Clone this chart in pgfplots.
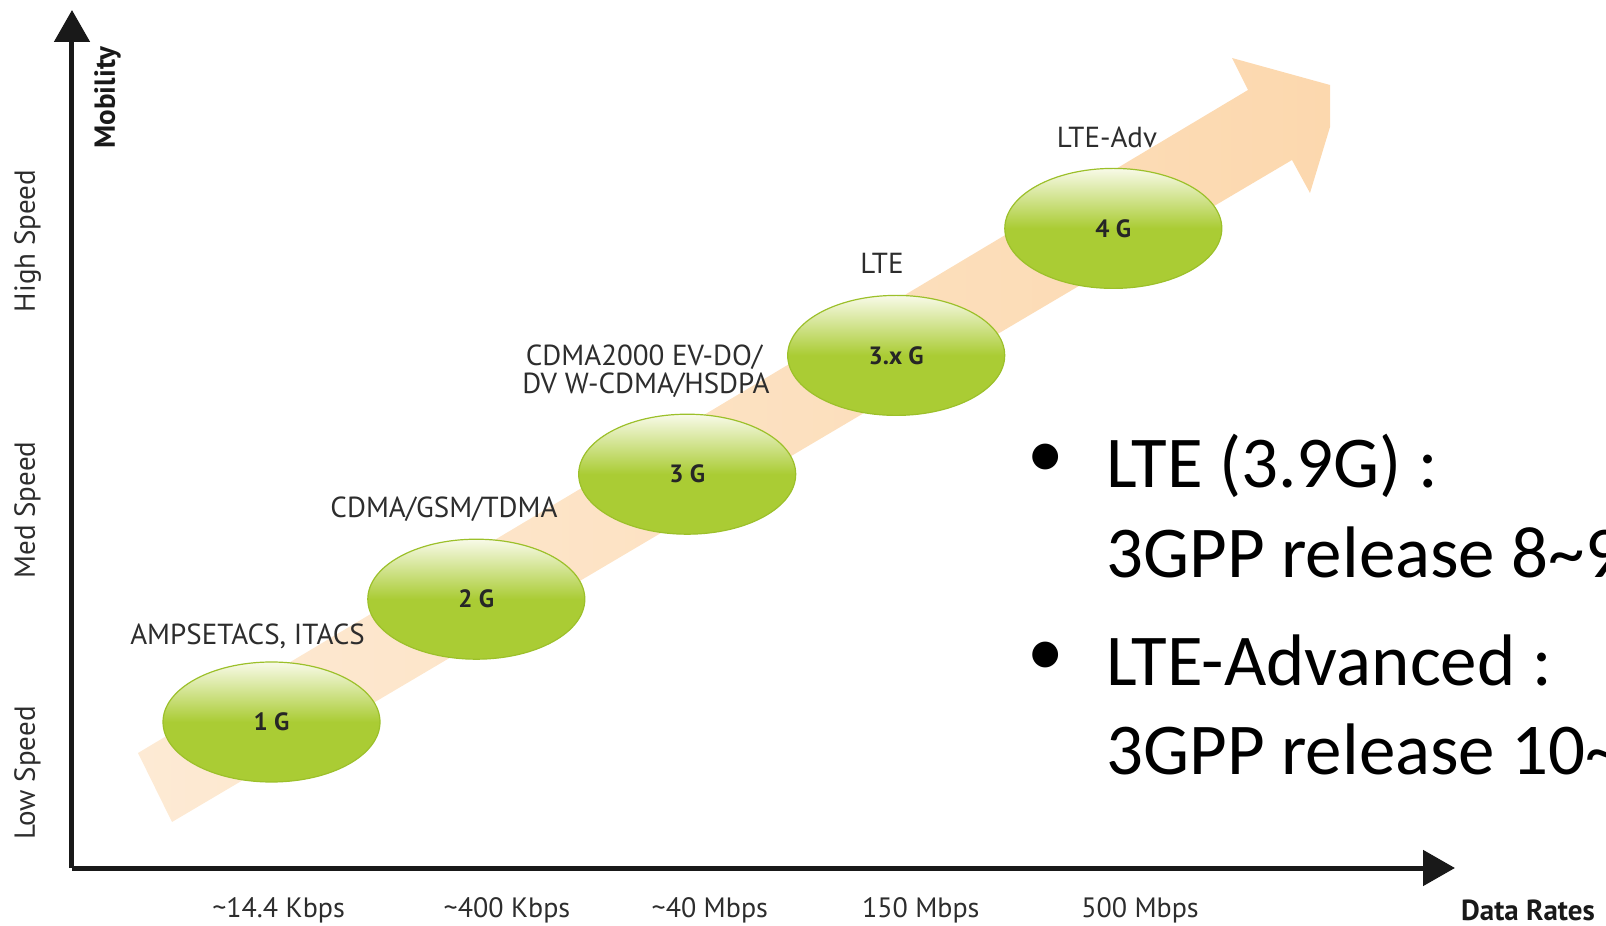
\documentclass[border=0pt]{standalone}
\usepackage{pgfplots}
\pgfplotsset{compat=1.18}
\usepackage{fontspec}
\setmainfont{PT Sans}
\newfontfamily\calibri{Carlito}
\usetikzlibrary{arrows.meta,shapes.geometric}

\definecolor{peach}{RGB}{252,216,174}
\definecolor{peachlight}{RGB}{253,234,212}
\definecolor{leaf}{RGB}{170,204,52}
\definecolor{leaftop}{RGB}{248,250,232}
\definecolor{leafedge}{RGB}{156,192,42}
\definecolor{labelgray}{RGB}{45,45,45}

% 1 px of the reference = 0.5pt, y counted from the bottom
\newcommand{\lbl}{\fontsize{14.5}{17}\selectfont}
\newcommand{\bulletfont}{\calibri\fontsize{36.5}{44}\selectfont}

\begin{document}
\begin{tikzpicture}
\begin{axis}[
  scale only axis, width=691.5pt, height=429pt,
  xmin=72, xmax=1455, ymin=58, ymax=916,
  axis lines=left,
  axis line style={line width=2.5pt, color=black!90},
  every outer x axis line/.append style={-{Triangle[length=16pt,width=17.5pt]}},
  every outer y axis line/.append style={-{Triangle[length=16pt,width=17.5pt]}},
  major tick length=0pt,
  xtick={278.6,507,709.8,920.8,1140},
  xticklabels={\textasciitilde14.4 Kbps,\textasciitilde400 Kbps,\textasciitilde40 Mbps,150 Mbps,500 Mbps},
  ytick={153,416,685},
  yticklabels={Low Speed,Med Speed,High Speed},
  xticklabel style={anchor=base, yshift=-24.5pt, inner sep=0pt, font=\fontsize{14}{17}\selectfont, text=labelgray},
  yticklabel style={xshift=-18.5pt, rotate=90, anchor=base, inner sep=0pt, font=\lbl, text=labelgray},
  clip=false,
]
% the broad arrow
\addplot[draw=none, left color=peachlight, right color=peach] coordinates {
  (138,173) (1248,836) (1232,868) (1330,841) (1330,799) (1310,733) (1292,766) (172,104)} -- cycle;

% generations
\addplot[draw=none, mark=none, point meta=explicit symbolic,
  nodes near coords, nodes near coords align=center,
  every node near coord/.append style={ellipse, anchor=center, minimum width=108.5pt,
    minimum height=60pt, top color=leaftop, bottom color=leaf, middle color=leaf,
    draw=leafedge, line width=0.6pt, inner sep=0pt,
    font=\bfseries\fontsize{12.5}{14}\selectfont, text=black!85}]
  coordinates {(271.5,204)[1 G] (476.3,326.8)[2 G] (687.2,451.8)[3 G]
               (896.2,570.6)[3.x G] (1113.3,697.6)[4 G]};

\coordinate (bl) at (axis cs:0,0);
\coordinate (tr) at (axis cs:1606,926);

\begin{scope}[every node/.style={anchor=base, font=\lbl, text=labelgray, inner sep=0pt}]
\node at (axis cs:247.5,281) {AMPSETACS, ITACS};
\node at (axis cs:444,408) {CDMA/GSM/TDMA};
\node at (axis cs:644,560) {CDMA2000 EV-DO/};
\node at (axis cs:646,532) {DV W-CDMA/HSDPA};
\node at (axis cs:882,652) {LTE};
\node at (axis cs:1107,778) {LTE-Adv};
\end{scope}

\node[rotate=90, anchor=base, inner sep=0pt, font=\bfseries\lbl, text=black!90] at (axis cs:115,828.5) {Mobility};
\node[anchor=base, inner sep=0pt, font=\bfseries\lbl, text=black!90] at (axis cs:1528,6) {Data Rates};

% bullet text
\begin{scope}[every node/.style={anchor=base west, inner sep=0pt, font=\bulletfont}]
\node at (axis cs:1106,438) {LTE (3.9G) :};
\node at (axis cs:1106,348) {3GPP release 8\textasciitilde 9};
\node at (axis cs:1106,240) {LTE-Advanced :};
\node at (axis cs:1106,151) {3GPP release 10\textasciitilde 12};
\end{scope}
\node[inner sep=0pt, font=\bulletfont] at (axis cs:1046,465) {\textbullet};
\node[inner sep=0pt, font=\bulletfont] at (axis cs:1046,267) {\textbullet};
\end{axis}
\pgfresetboundingbox
\useasboundingbox (bl) rectangle (tr);
\end{tikzpicture}
\end{document}
